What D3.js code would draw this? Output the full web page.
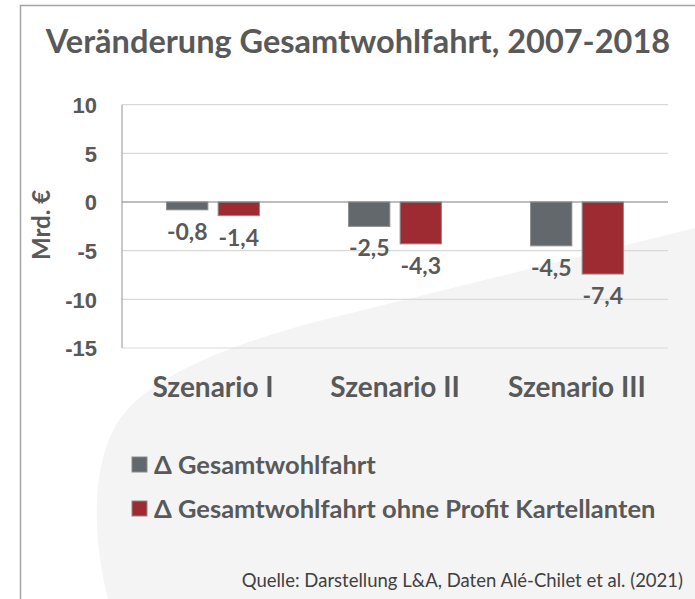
<!DOCTYPE html>
<html>
<head>
<meta charset="utf-8">
<script src="https://cdn.jsdelivr.net/npm/d3@7"></script>
<style>
	html, body { margin: 0; padding: 0; background: #fff; }
	svg { display: block; font-family: Lato, "Open Sans", sans-serif; }
	.tick text { font-size: 22px; font-weight: bold; fill: #595959; }
</style>
</head>
<body>
<svg id="bar-chart" width="695" height="599"></svg>
<script>
// chart data
var categories = ['Szenario I', 'Szenario II', 'Szenario III'];
var seriesNames = ['Δ Gesamtwohlfahrt', 'Δ Gesamtwohlfahrt ohne Profit Kartellanten'];
var wohlfahrt = [-0.8, -2.5, -4.5];
var wohlfahrtOhneProfit = [-1.4, -4.3, -7.4];
var yTicks = [10, 5, 0, -5, -10, -15];
var titleText = 'Veränderung Gesamtwohlfahrt, 2007-2018';
var yLabel = 'Mrd. €';
var sourceText = 'Quelle: Darstellung L&A, Daten Alé-Chilet et al. (2021)';

(function() {

	'use strict';

	var svg = d3.select('#bar-chart'),
		colors = ['#63686c', '#9e2b31'],
		textColor = '#595959',
		plot = {left: 122, right: 668, top: 104.7, bottom: 348};

	var seriesValues = [wohlfahrt, wohlfahrtOhneProfit];

	var rows = categories.map(function(c, i) {
		return {cat: c, values: seriesValues.map(function(s, j) { return {key: j, value: s[i]}; })};
	});

	var xScale = d3.scaleBand()
		.domain(categories)
		.range([plot.left, plot.right])
		.paddingInner(0.49)
		.paddingOuter(0.245);

	var xSub = d3.scaleBand()
		.domain([0, 1])
		.range([0, xScale.bandwidth()])
		.paddingInner(0.2);

	var yScale = d3.scaleLinear()
		.domain([-15, 10])
		.range([plot.bottom, plot.top]);


	/**
	* background shape and frame
	*/
	var drawBackground = function() {
		svg.append('path')
			.attr('d', 'M695,228 L335,317 C240,340 160,372 125,412 C95,448 88,520 108,599 L695,599 Z')
			.attr('fill', '#f4f4f4');

		svg.append('path')
			.attr('d', 'M20.5,599 L20.5,5.5 L695,5.5')
			.attr('fill', 'none')
			.attr('stroke', '#a3a3a3')
			.attr('stroke-width', 1.5);
	};


	/**
	* grid, axis and labels
	*/
	var drawAxes = function() {
		svg.append('g')
			.selectAll('line')
			.data(yTicks.filter(function(t) { return t !== 0; }))
			.enter()
			.append('line')
			.attr('x1', plot.left)
			.attr('x2', plot.right)
			.attr('y1', function(d) { return yScale(d); })
			.attr('y2', function(d) { return yScale(d); })
			.attr('stroke', '#d9d9d9')
			.attr('stroke-width', 1.2);

		svg.append('line')
			.attr('x1', plot.left)
			.attr('x2', plot.left)
			.attr('y1', yScale(10))
			.attr('y2', yScale(-15))
			.attr('stroke', '#a6a6a6')
			.attr('stroke-width', 1.2);

		var yAxis = svg.append('g')
			.attr('transform', 'translate(' + plot.left + ',0)')
			.call(d3.axisLeft(yScale).tickValues(yTicks).tickSize(0).tickPadding(25).tickFormat(d3.format('d')));
		yAxis.select('.domain').remove();
		yAxis.selectAll('.tick text').attr('dy', '0.36em').text(function(d) { return String(d); });

		svg.append('text')
			.attr('transform', 'translate(50,225) rotate(-90)')
			.attr('text-anchor', 'middle')
			.attr('font-size', 24)
			.attr('font-weight', 'bold')
			.attr('fill', textColor)
			.text(yLabel);

		svg.append('g')
			.selectAll('text')
			.data(categories)
			.enter()
			.append('text')
			.attr('x', function(d) { return xScale(d) + xScale.bandwidth() / 2; })
			.attr('y', 397)
			.attr('text-anchor', 'middle')
			.attr('font-size', 28)
			.attr('font-weight', 'bold')
			.attr('fill', textColor)
			.text(function(d) { return d; });
	};


	/**
	* bars and value labels
	*/
	var drawBars = function() {
		var groups = svg.append('g')
			.selectAll('g')
			.data(rows)
			.enter()
			.append('g')
			.attr('transform', function(d) { return 'translate(' + xScale(d.cat) + ',0)'; });

		groups.selectAll('rect')
			.data(function(d) { return d.values; })
			.enter()
			.append('rect')
			.attr('x', function(d) { return xSub(d.key); })
			.attr('y', function(d) { return yScale(Math.max(0, d.value)); })
			.attr('width', xSub.bandwidth())
			.attr('height', function(d) { return Math.abs(yScale(d.value) - yScale(0)); })
			.attr('fill', function(d) { return colors[d.key]; })
			.attr('stroke', '#8a8a8a')
			.attr('stroke-width', 1);

		groups.selectAll('text')
			.data(function(d) { return d.values; })
			.enter()
			.append('text')
			.attr('x', function(d) { return xSub(d.key) + xSub.bandwidth() / 2; })
			.attr('y', function(d) { return yScale(d.value) + 30; })
			.attr('text-anchor', 'middle')
			.attr('font-size', 23)
			.attr('font-weight', 'bold')
			.attr('fill', textColor)
			.text(function(d) { return d3.format('.1f')(d.value).replace('.', ',').replace('−', '-'); });

		// zero line on top of the bars
		svg.append('line')
			.attr('x1', plot.left)
			.attr('x2', plot.right)
			.attr('y1', yScale(0))
			.attr('y2', yScale(0))
			.attr('stroke', '#7f7f7f')
			.attr('stroke-width', 1.2);
	};


	/**
	* title, legend, source
	*/
	var drawTexts = function() {
		svg.append('text')
			.attr('x', 358)
			.attr('y', 53)
			.attr('text-anchor', 'middle')
			.attr('font-size', 32.5)
			.attr('font-weight', 'bold')
			.attr('fill', textColor)
			.text(titleText);

		var legend = svg.append('g')
			.selectAll('g')
			.data(seriesNames)
			.enter()
			.append('g')
			.attr('transform', function(d, i) { return 'translate(132,' + (457 + i * 44) + ')'; });

		legend.append('rect')
			.attr('width', 15)
			.attr('height', 15)
			.attr('fill', function(d, i) { return colors[i]; })
			.attr('stroke', '#8a8a8a')
			.attr('stroke-width', 1);

		legend.append('text')
			.attr('x', 22)
			.attr('y', 16.5)
			.attr('font-size', 25.5)
			.attr('font-weight', 'bold')
			.attr('fill', textColor)
			.text(function(d) { return d; });

		svg.append('text')
			.attr('x', 683)
			.attr('y', 587)
			.attr('text-anchor', 'end')
			.attr('font-size', 18.5)
			.attr('fill', '#404040')
			.text(sourceText);
	};


	drawBackground();
	drawAxes();
	drawBars();
	drawTexts();

})();
</script>
</body>
</html>
